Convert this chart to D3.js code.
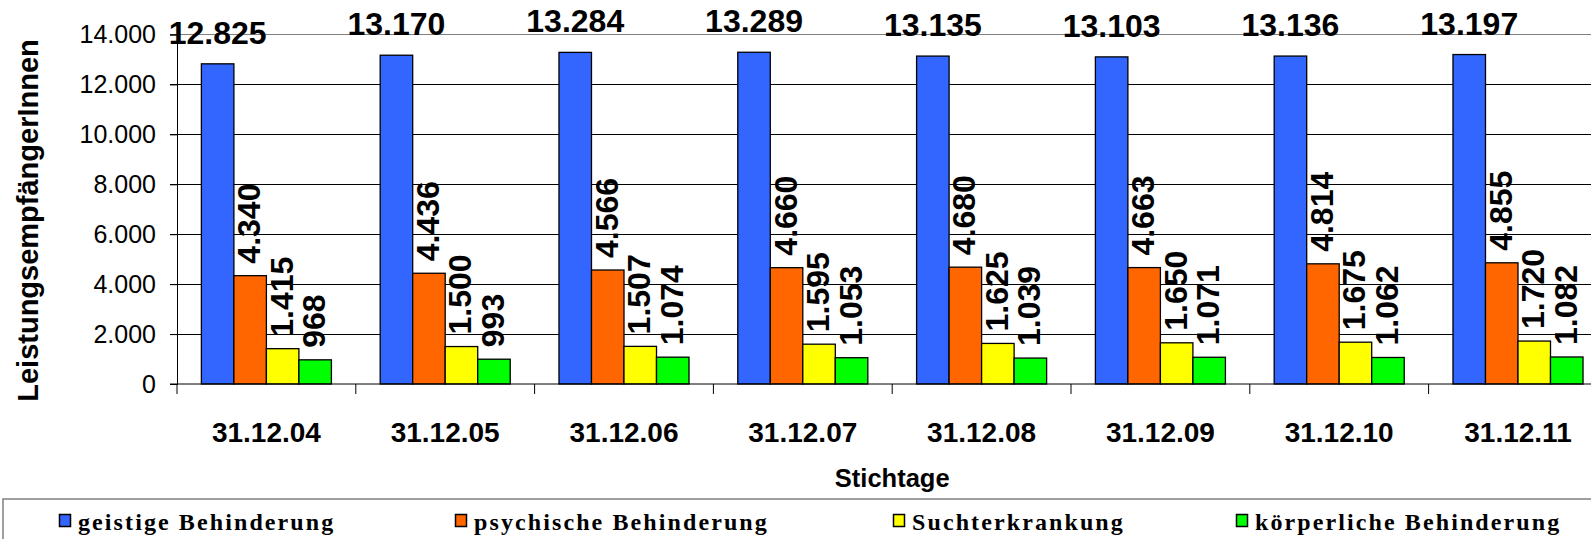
<!DOCTYPE html>
<html>
<head>
<meta charset="utf-8">
<script src="https://cdn.jsdelivr.net/npm/d3@7"></script>
<style>
	body { margin: 0; background: #fff; }
	svg { display: block; }
</style>
</head>
<body>
<div id="chart"></div>
<script>
var categories = ["31.12.04", "31.12.05", "31.12.06", "31.12.07", "31.12.08", "31.12.09", "31.12.10", "31.12.11"];
var seriesNames = ["geistige Behinderung", "psychische Behinderung", "Suchterkrankung", "körperliche Behinderung"];
var geistig = [12825, 13170, 13284, 13289, 13135, 13103, 13136, 13197];
var psychisch = [4340, 4436, 4566, 4660, 4680, 4663, 4814, 4855];
var sucht = [1415, 1500, 1507, 1595, 1625, 1650, 1675, 1720];
var koerperlich = [968, 993, 1074, 1053, 1039, 1071, 1062, 1082];
var yTicks = [0, 2000, 4000, 6000, 8000, 10000, 12000, 14000];

var seriesValues = [geistig, psychisch, sucht, koerperlich];
var colors = ["#3366FF", "#FF6600", "#FFFF00", "#00FF00"];

var width = 1591, height = 539;
var sans = "'Liberation Sans', Arial, sans-serif";
var serif = "'Liberation Serif', 'Times New Roman', serif";

var de = d3.formatLocale({ decimal: ",", thousands: ".", grouping: [3], currency: ["", " €"] });
var fmt = de.format(",d");

var svg = d3.select("#chart").append("svg")
	.attr("width", width)
	.attr("height", height);

// plot area (runs off the right edge like the original)
var plotLeft = 177, plotRight = 1607.4, plotTop = 34.5, plotBottom = 384;

var x0 = d3.scaleBand().domain(categories).range([plotLeft, plotRight]).padding(0);
var x1 = d3.scaleBand().domain(seriesNames).range([0, x0.bandwidth()]).paddingInner(0).paddingOuter(0.75);
var y = d3.scaleLinear().domain([0, 14000]).range([plotBottom, plotTop]);

//grid lines
svg.append("g").selectAll("line")
	.data(yTicks.filter(function (d) { return d > 0; }))
	.enter().append("line")
	.attr("x1", plotLeft - 7).attr("x2", width)
	.attr("y1", function (d) { return y(d); })
	.attr("y2", function (d) { return y(d); })
	.attr("stroke", function (d) { return d === 14000 ? "#808080" : "#000"; })
	.attr("stroke-width", function (d) { return d === 14000 ? 1.5 : 1; })
	.attr("shape-rendering", "crispEdges");

//y axis
var yAxis = svg.append("g")
	.attr("transform", "translate(" + plotLeft + ",0)")
	.call(d3.axisLeft(y).tickValues(yTicks).tickSize(7).tickPadding(14).tickFormat(fmt));
yAxis.select(".domain").attr("stroke", "#000");
yAxis.selectAll("text")
	.attr("font-family", sans)
	.attr("font-size", "25px")
	.attr("fill", "#000");

//bars
var groups = svg.append("g").selectAll("g")
	.data(categories)
	.enter().append("g")
	.attr("transform", function (d) { return "translate(" + x0(d) + ",0)"; });

groups.selectAll("rect")
	.data(function (c, i) {
		return seriesNames.map(function (s, j) { return { s: s, j: j, v: seriesValues[j][i] }; });
	})
	.enter().append("rect")
	.attr("x", function (d) { return x1(d.s); })
	.attr("y", function (d) { return y(d.v); })
	.attr("width", x1.bandwidth())
	.attr("height", function (d) { return y(0) - y(d.v); })
	.attr("fill", function (d) { return colors[d.j]; })
	.attr("stroke", "#000")
	.attr("stroke-width", 1.3);

//x axis
var xAxis = svg.append("g")
	.attr("transform", "translate(0," + plotBottom + ")");
xAxis.append("line")
	.attr("x1", plotLeft - 7).attr("x2", width)
	.attr("stroke", "#000");
xAxis.selectAll("line.tick")
	.data(d3.range(categories.length + 1))
	.enter().append("line")
	.attr("class", "tick")
	.attr("x1", function (i) { return plotLeft + i * x0.step(); })
	.attr("x2", function (i) { return plotLeft + i * x0.step(); })
	.attr("y1", 0).attr("y2", 10)
	.attr("stroke", "#000");
xAxis.selectAll("text")
	.data(categories)
	.enter().append("text")
	.attr("x", function (d) { return x0(d) + x0.bandwidth() / 2; })
	.attr("y", 58)
	.attr("text-anchor", "middle")
	.attr("font-family", sans)
	.attr("font-weight", "bold")
	.attr("font-size", "28px")
	.text(function (d) { return d; });

//value labels
groups.selectAll("text")
	.data(function (c, i) {
		return seriesNames.map(function (s, j) { return { s: s, j: j, v: seriesValues[j][i] }; });
	})
	.enter().append("text")
	.attr("font-family", sans)
	.attr("font-weight", "bold")
	.attr("font-size", "32px")
	.attr("fill", "#000")
	.attr("text-anchor", function (d) { return d.j === 0 ? "middle" : "start"; })
	.attr("transform", function (d) {
		var cx = x1(d.s) + x1.bandwidth() / 2;
		if (d.j === 0) { return "translate(" + cx + "," + (y(d.v) - 20) + ")"; }
		return "translate(" + (cx + 10) + "," + (y(d.v) - 12) + ") rotate(-90)";
	})
	.text(function (d) { return fmt(d.v); });

//axis titles
svg.append("text")
	.attr("transform", "translate(38,220.5) rotate(-90)")
	.attr("text-anchor", "middle")
	.attr("font-family", sans)
	.attr("font-weight", "bold")
	.attr("font-size", "29px")
	.text("LeistungsempfängerInnen");

svg.append("text")
	.attr("x", (plotLeft + plotRight) / 2)
	.attr("y", 487)
	.attr("text-anchor", "middle")
	.attr("font-family", sans)
	.attr("font-weight", "bold")
	.attr("font-size", "25.5px")
	.text("Stichtage");

//legend
var legendX = [59, 455, 893, 1236];
var legend = svg.append("g");
legend.append("rect")
	.attr("x", 3).attr("y", 499)
	.attr("width", width + 10).attr("height", 60)
	.attr("fill", "none")
	.attr("stroke", "#808080")
	.attr("stroke-width", 1.5);

var items = legend.selectAll("g.item")
	.data(seriesNames)
	.enter().append("g")
	.attr("class", "item")
	.attr("transform", function (d, i) { return "translate(" + legendX[i] + ",0)"; });
items.append("rect")
	.attr("x", 0.5).attr("y", 514.5)
	.attr("width", 11).attr("height", 12)
	.attr("fill", function (d, i) { return colors[i]; })
	.attr("stroke", "#000")
	.attr("stroke-width", 1.5);
items.append("text")
	.attr("x", 19)
	.attr("y", 529.5)
	.attr("font-family", serif)
	.attr("font-weight", "bold")
	.attr("font-size", "24px")
	.attr("letter-spacing", "2.1px")
	.text(function (d) { return d; });
</script>
</body>
</html>
